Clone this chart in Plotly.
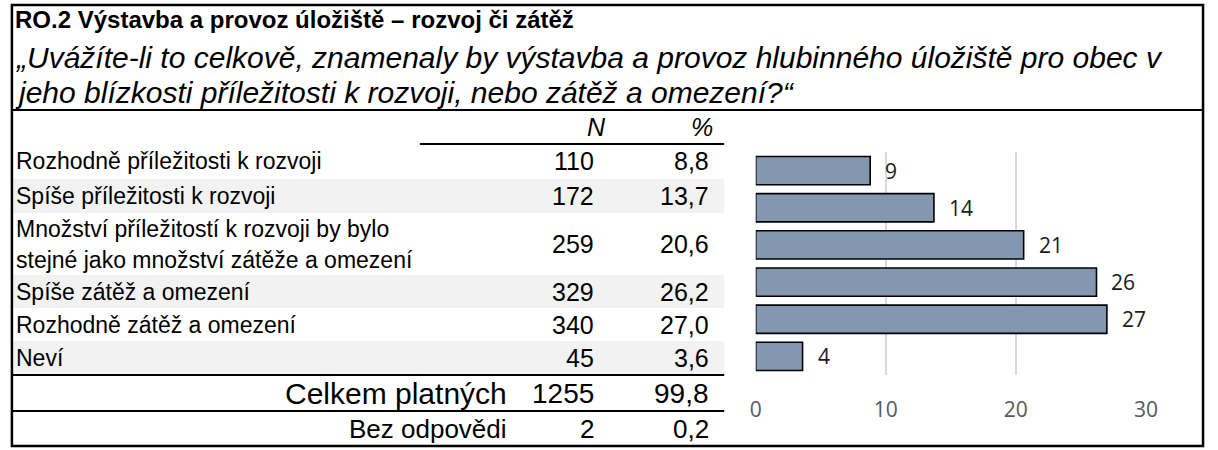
import plotly.graph_objects as go

# Survey answers, counts and shares (%)
categories = [
    "Rozhodně příležitosti k rozvoji",
    "Spíše příležitosti k rozvoji",
    "Množství příležitostí k rozvoji by bylo<br>stejné jako množství zátěže a omezení",
    "Spíše zátěž a omezení",
    "Rozhodně zátěž a omezení",
    "Neví",
]
counts = [110, 172, 259, 329, 340, 45]
percents = [8.8, 13.7, 20.6, 26.2, 27.0, 3.6]

summary_labels = ["Celkem platných", "Bez odpovědi"]
summary_counts = [1255, 2]
summary_percents = [99.8, 0.2]

title_text = "RO.2 Výstavba a provoz úložiště – rozvoj či zátěž"
question_lines = [
    "„Uvážíte-li to celkově, znamenaly by výstavba a provoz hlubinného úložiště pro obec v",
    "jeho blízkosti příležitosti k rozvoji, nebo zátěž a omezení?“",
]
axis_ticks = [0, 10, 20, 30]

W, H = 1218, 450
TABLE_FONT = "Liberation Sans, Arial, sans-serif"
CHART_FONT = "Open Sans, Lato, sans-serif"


def fx(x):
    return x / W


def fy(y):
    return 1 - y / H


def fmt(v):
    return f"{v:.1f}".replace(".", ",")


fig = go.Figure()

# Bar chart of shares
fig.add_trace(go.Bar(
    x=percents,
    y=list(range(len(categories))),
    orientation="h",
    marker=dict(color="#8497b0", line=dict(color="#000000", width=1.6)),
    hoverinfo="skip",
    showlegend=False,
))

shapes = []
annotations = []

# Table row geometry (top, bottom) in pixels
row_bounds = [(144, 179), (179, 213), (213, 275), (275, 308), (308, 341), (341, 375)]
summary_bounds = [(375, 411), (411, 446)]

for i, (t, b) in enumerate(row_bounds):
    if i % 2 == 1:
        shapes.append(dict(type="rect", xref="paper", yref="paper",
                           x0=fx(7), x1=fx(729), y0=fy(b), y1=fy(t),
                           fillcolor="#f2f2f2", line=dict(width=0), layer="below"))


def line(x0, y0, x1, y1, w=2):
    shapes.append(dict(type="line", xref="paper", yref="paper",
                       x0=fx(x0), x1=fx(x1), y0=fy(y0), y1=fy(y1),
                       line=dict(color="#000000", width=w)))


# Frame and table rules
shapes.append(dict(type="rect", xref="paper", yref="paper",
                   x0=fx(6), x1=fx(1215), y0=fy(446), y1=fy(5),
                   line=dict(color="#000000", width=2.5)))
line(6, 110, 1215, 110)
line(420, 144, 729, 144)
line(6, 375, 729, 375)
line(6, 411, 729, 411)


def text(x, y, s, anchor="left", size=23, color="#000000"):
    annotations.append(dict(xref="paper", yref="paper", x=fx(x), y=fy(y),
                            text=s, showarrow=False, xanchor=anchor, yanchor="middle",
                            font=dict(family=TABLE_FONT, size=size, color=color)))


text(7, 19, f"<b>{title_text}</b>", size=24)
text(7, 57, f"<i>{question_lines[0]}</i>", size=30)
text(7, 92, f"<i>{question_lines[1]}</i>", size=30)

text(599, 127, "<i>N</i>", anchor="center", size=25)
text(720, 127, "<i>%</i>", anchor="right", size=25)

NUM_SIZE = 25
for label, n, p, (t, b) in zip(categories, counts, percents, row_bounds):
    yc = (t + b) / 2
    parts = label.split("<br>")
    if len(parts) == 1:
        text(8, yc, label)
    else:
        step = 31
        y0 = yc - step * (len(parts) - 1) / 2
        for k, part in enumerate(parts):
            text(8, y0 + k * step, part)
    text(599, yc, str(n), anchor="right", size=NUM_SIZE)
    text(716, yc, fmt(p), anchor="right", size=NUM_SIZE)

summary_sizes = [30, 26]
for label, n, p, (t, b), sz in zip(summary_labels, summary_counts, summary_percents,
                                   summary_bounds, summary_sizes):
    yc = (t + b) / 2
    text(511, yc, label, anchor="right", size=sz)
    text(599, yc, str(n), anchor="right", size=min(sz, 28))
    text(716, yc, fmt(p), anchor="right", size=min(sz, 28))

# Value labels next to the bars
for i, p in enumerate(percents):
    annotations.append(dict(xref="x", yref="y", x=p, y=i, text=str(round(p)),
                            showarrow=False, xanchor="left", yanchor="middle", xshift=13,
                            font=dict(family=CHART_FONT, size=21, color="#1a1a1a")))

fig.update_layout(
    width=W, height=H,
    margin=dict(l=0, r=0, t=0, b=0),
    paper_bgcolor="#ffffff",
    plot_bgcolor="rgba(0,0,0,0)",
    bargap=0.24,
    shapes=shapes,
    annotations=annotations,
    xaxis=dict(
        domain=[fx(761), fx(1157)],
        range=[0, 30],
        tickvals=axis_ticks,
        showgrid=True, gridcolor="#d9d9d9", gridwidth=2,
        zeroline=False, showline=False, ticks="",
        tickfont=dict(family=CHART_FONT, size=21, color="#595959"),
        ticklabelstandoff=20,
        fixedrange=True,
    ),
    yaxis=dict(
        domain=[fy(375), fy(152)],
        range=[len(categories) - 0.5, -0.5],
        visible=False,
        fixedrange=True,
    ),
)

fig.write_html("out.html")
